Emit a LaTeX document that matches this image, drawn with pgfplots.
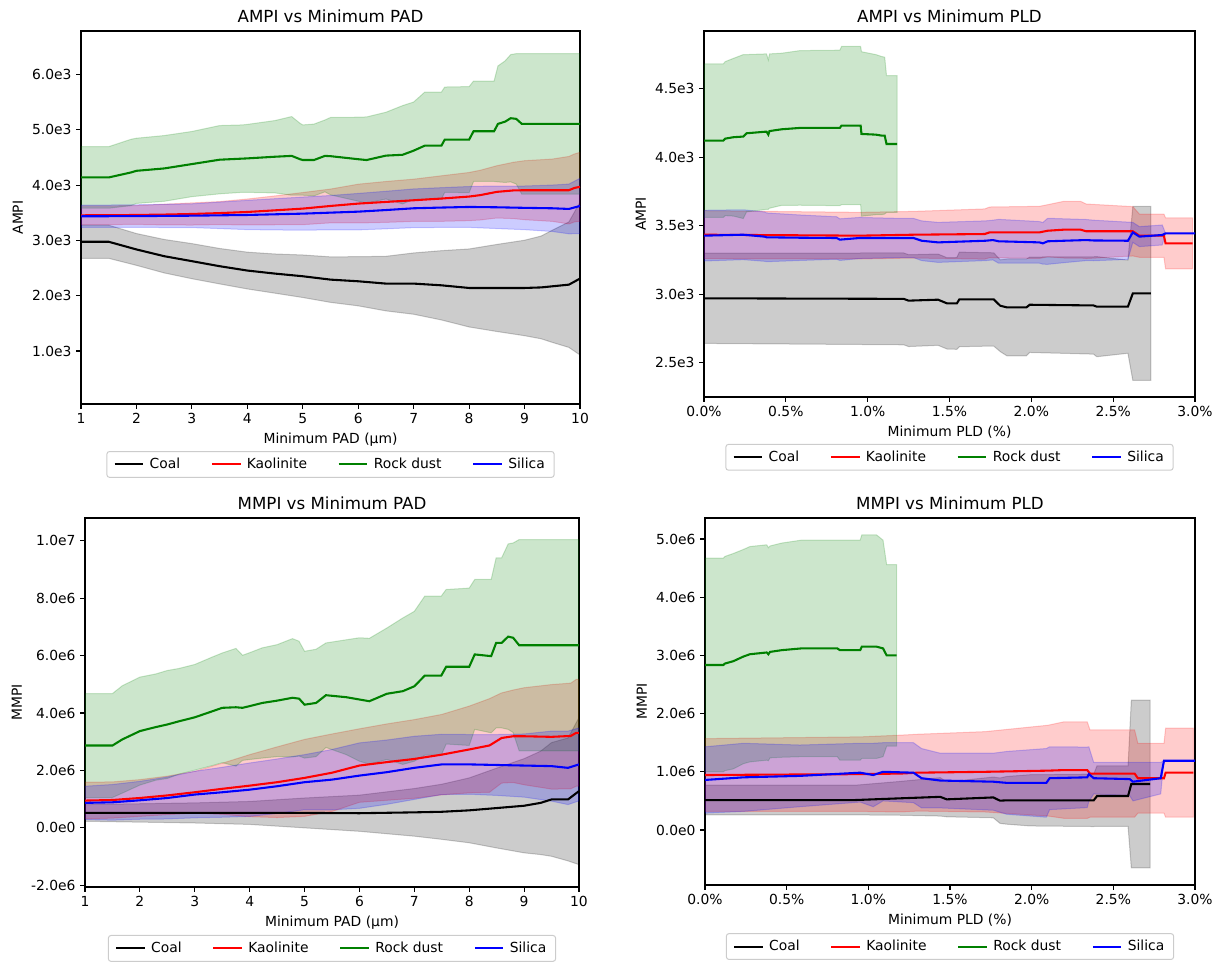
\documentclass[border=0pt]{standalone}
\usepackage{fontspec}
\setmainfont{DejaVu Sans}
\usepackage{pgfplots}
\pgfplotsset{compat=1.18}
\usepackage{pgfplotstable}
\usepgfplotslibrary{fillbetween}
\definecolor{mgreen}{HTML}{008000}

% ---------- AMPI vs PAD ----------
\pgfplotstableread{
x m s
1 2976 300
1.5 2976 300
2 2837 288
2.5 2715 303
3 2625 318
3.5 2534 321
4 2455 333
4.5 2400 355
5 2352 385
5.5 2291 412
6 2261 445
6.5 2219 494
7 2219 555
7.5 2188 627
8 2140 706
8.5 2140 788
9 2140 864
9.3 2150 930
9.5 2170 1015
9.8 2200 1136
10 2310 1383
}\cA
\pgfplotstableread{
x m s
1 3455 170
1.5 3456 170
2 3461 170
2.5 3468 187
3 3479 200
3.5 3495 208
4 3515 235
4.5 3545 261
5 3576 291
5.5 3624 306
6 3667 351
6.5 3697 370
7 3727 382
7.5 3758 412
8 3794 436
8.2 3820 450
8.5 3879 473
8.8 3905 510
9 3909 534
9.5 3909 564
9.8 3909 611
9.9 3950 615
10 3970 624
}\kA
\pgfplotstableread{
x m s
1 4140 557
1.5 4140 557
1.9 4230 600
2 4260 590
2.5 4303 595
3 4382 590
3.5 4461 618
3.9 4480 610
4 4485 615
4.5 4515 655
4.8 4530 712
4.95 4470 650
5 4455 636
5.2 4455 650
5.4 4530 650
5.5 4525 700
6 4470 760
6.15 4455 780
6.5 4535 785
6.8 4550 890
7 4625 880
7.2 4715 970
7.5 4715 970
7.56 4824 952
8 4824 960
8.08 4976 909
8.45 4976 909
8.52 5109 1049
8.65 5150 1100
8.75 5212 1152
8.85 5200 1180
8.95 5109 1273
10 5109 1273
}\rA
\pgfplotstableread{
x m s
1 3437 200
2 3440 205
3 3448 215
4 3461 265
5 3485 300
5.5 3503 310
6 3521 330
6.5 3550 340
7 3582 350
7.5 3595 360
8 3606 370
8.5 3600 385
9 3590 395
9.5 3582 420
9.8 3570 450
10 3624 500
}\sA

% ---------- AMPI vs PLD ----------
\pgfplotstableread{
x m s
0 2970 329
1.22 2966 335
1.25 2953 335
1.43 2960 333
1.485 2933 333
1.545 2933 335
1.56 2962 345
1.77 2962 340
1.81 2916 335
1.85 2904 353
1.97 2904 353
1.99 2923 348
2.38 2918 355
2.40 2909 365
2.59 2909 340
2.62 3006 635
2.73 3006 635
}\cB
\pgfplotstableread{
x m s
0 3434 175
0.95 3427 170
1.28 3434 170
1.715 3439 183
1.745 3451 185
2.05 3451 190
2.1 3463 190
2.2 3471 207
2.3 3471 207
2.335 3459 199
2.62 3459 180
2.66 3427 158
2.81 3427 158
2.82 3371 186
2.985 3371 186
}\kB
\pgfplotstableread{
x m s
0 4120 560
0.118 4120 560
0.13 4135 562
0.179 4145 575
0.24 4150 598
0.26 4174 574
0.382 4186 567
0.393 4164 545
0.40 4190 563
0.474 4203 555
0.586 4213 564
0.83 4213 567
0.84 4230 577
0.957 4230 577
0.962 4169 600
1.05 4164 584
1.085 4157 577
1.104 4157 572
1.115 4096 499
1.18 4096 499
}\rB
\pgfplotstableread{
x m s
0 3427 185
0.24 3434 182
0.37 3420 180
0.382 3415 178
0.586 3412 166
0.81 3410 155
0.83 3398 152
0.95 3410 150
1.196 3410 143
1.28 3410 143
1.33 3390 145
1.43 3378 146
1.72 3390 145
1.765 3395 145
1.8 3386 160
2.05 3378 152
2.07 3371 152
2.1 3386 168
2.2 3390 160
2.335 3395 150
2.38 3392 148
2.59 3390 136
2.62 3451 73
2.66 3420 73
2.8 3432 73
2.82 3444 0
3.0 3444 0
}\sB

% ---------- MMPI vs PAD (values in 1e6) ----------
\pgfplotstableread{
x m s
1 0.52 0.29
2 0.52 0.32
3 0.52 0.35
4 0.52 0.40
5 0.52 0.52
6 0.51 0.63
7 0.54 0.83
7.5 0.56 0.96
8 0.61 1.13
8.5 0.69 1.39
9 0.77 1.64
9.3 0.87 1.80
9.5 0.99 1.98
9.8 0.99 2.14
10 1.28 2.56
}\cC
\pgfplotstableread{
x m s
1 0.95 0.64
1.5 0.97 0.63
2 1.04 0.64
2.5 1.13 0.67
3 1.24 0.73
3.5 1.36 0.89
4 1.47 1.08
4.5 1.59 1.23
5 1.74 1.34
5.5 1.92 1.35
6 2.17 1.28
6.5 2.29 1.33
7 2.40 1.37
7.5 2.55 1.40
8 2.73 1.51
8.37 2.87 1.63
8.59 3.13 1.57
8.8 3.19 1.61
9 3.19 1.69
9.5 3.17 1.82
9.85 3.20 1.84
9.95 3.31 1.86
10 3.31 1.86
}\kC
\pgfplotstableread{
x m s
1 2.867 1.81
1.5 2.867 1.81
1.68 3.08 1.87
2 3.37 1.88
2.29 3.51 1.85
2.5 3.60 1.88
2.71 3.71 1.84
3 3.85 1.84
3.32 4.06 1.89
3.5 4.18 1.91
3.75 4.20 2.05
3.87 4.18 1.83
4 4.24 1.86
4.23 4.35 1.92
4.5 4.43 1.95
4.78 4.53 2.06
4.9 4.50 2.0
5 4.29 1.86
5.21 4.35 1.87
5.39 4.62 1.82
5.76 4.55 2.0
6 4.47 2.15
6.18 4.41 2.19
6.5 4.67 2.29
6.79 4.76 2.55
7 4.93 2.61
7.19 5.30 2.77
7.49 5.30 2.77
7.58 5.61 2.69
8 5.61 2.74
8.1 6.04 2.61
8.4 5.98 2.67
8.49 6.44 2.96
8.59 6.44 2.96
8.71 6.66 3.23
8.8 6.62 3.30
8.91 6.36 3.68
10 6.36 3.68
}\rC
\pgfplotstableread{
x m s
1 0.87 0.58
1.5 0.89 0.62
2 0.96 0.66
2.5 1.04 0.73
3 1.16 0.81
3.5 1.24 0.87
4 1.33 0.93
4.5 1.45 0.95
5 1.59 0.96
5.5 1.68 1.05
6 1.82 1.14
6.5 1.94 1.12
7 2.09 1.10
7.5 2.21 1.05
8 2.21 1.04
8.5 2.19 1.06
9 2.17 1.10
9.5 2.15 1.22
9.8 2.09 1.28
10 2.21 1.27
}\sC

% ---------- MMPI vs PLD (values in 1e6) ----------
\pgfplotstableread{
x m s
0 0.515 0.255
0.92 0.515 0.255
1.19 0.544 0.29
1.44 0.57 0.33
1.48 0.527 0.30
1.765 0.56 0.35
1.806 0.504 0.39
1.847 0.51 0.41
1.99 0.51 0.44
2.38 0.51 0.45
2.40 0.584 0.52
2.59 0.584 0.52
2.61 0.79 1.44
2.725 0.79 1.44
}\cD
\pgfplotstableread{
x m s
0 0.945 0.625
0.95 0.96 0.64
1.2 0.97 0.66
1.3 0.985 0.66
1.715 1.0 0.69
2.1 1.02 0.78
2.2 1.03 0.83
2.34 1.03 0.83
2.357 0.97 0.75
2.63 0.97 0.75
2.65 0.89 0.60
2.81 0.89 0.60
2.82 0.985 0.765
2.99 0.985 0.765
}\kD
\pgfplotstableread{
x m s
0 2.835 1.835
0.112 2.835 1.835
0.122 2.86 1.84
0.173 2.90 1.85
0.235 2.98 1.84
0.275 3.02 1.85
0.378 3.05 1.85
0.388 3.02 1.83
0.398 3.06 1.82
0.47 3.09 1.84
0.59 3.12 1.86
0.81 3.12 1.86
0.826 3.09 1.89
0.95 3.09 1.89
0.96 3.15 1.92
1.05 3.15 1.92
1.09 3.12 1.86
1.112 3.0 1.56
1.173 3.0 1.56
}\rD
\pgfplotstableread{
x m s
0 0.86 0.57
0.235 0.905 0.585
0.58 0.93 0.53
0.95 0.985 0.505
1.03 0.945 0.545
1.09 1.0 0.50
1.276 0.985 0.515
1.326 0.89 0.51
1.44 0.85 0.47
1.765 0.83 0.49
1.847 0.81 0.54
2.09 0.81 0.59
2.11 0.89 0.54
2.34 0.905 0.52
2.35 0.96 0.47
2.38 0.89 0.27
2.6 0.875 0.285
2.62 0.83 0.33
2.79 0.89 0.27
2.81 1.19 0
3.0 1.19 0
}\sD

\newcommand\band[3]{%
  \addplot[draw=none, forget plot, name path=#3l] table[x=x, y expr=\thisrow{m}-\thisrow{s}]{#1};
  \addplot[draw=none, forget plot, name path=#3u] table[x=x, y expr=\thisrow{m}+\thisrow{s}]{#1};
  \addplot[fill=#2, fill opacity=0.2, draw=#2, draw opacity=0.2, line width=0.75pt, forget plot] fill between[of=#3l and #3u];
  \addplot[#2, line width=1.56pt] table[x=x, y=m]{#1};
}

\pgfplotsset{
  myax/.style={
    scale only axis,
    anchor=north west,
    axis line style={line width=0.83pt},
    tick pos=left, tick align=outside, major tick length=3.6pt,
    every tick/.style={line width=0.83pt, black},
    scaled ticks=false,
    tick label style={font=\fontsize{10.4}{12}\selectfont},
    label style={font=\fontsize{10.4}{12}\selectfont},
    every axis title/.style={font=\fontsize{12.5}{15}\selectfont, anchor=base, at={(0.5,1)}, yshift=6.5pt, inner sep=0pt},
    legend columns=4,
    legend cell align=left,
    legend style={anchor=north, draw=black!20, rounded corners=2pt, line width=0.75pt,
      font=\fontsize{10.4}{12}\selectfont, inner xsep=5pt, inner ysep=3pt,
      /tikz/every even column/.append style={column sep=21pt},
      /tikz/every odd column/.append style={column sep=2pt}},
    legend image code/.code={\draw[##1] (0pt,0pt) -- (21.5pt,0pt);},
  },
}

\begin{document}
\begin{tikzpicture}
\path (0,0) rectangle (914.25pt,-719.25pt);

% AMPI vs PAD
\begin{axis}[myax, at={(60.75pt,-23.25pt)}, width=374.25pt, height=279.75pt,
  xmin=1, xmax=10, ymin=40, ymax=6790,
  xtick={1,2,3,4,5,6,7,8,9,10}, xticklabels={1,2,3,4,5,6,7,8,9,10},
  ytick={1000,2000,3000,4000,5000,6000}, yticklabels={1.0e3,2.0e3,3.0e3,4.0e3,5.0e3,6.0e3},
  title={AMPI vs Minimum PAD}, xlabel={Minimum PAD (µm)}, ylabel={AMPI},
  legend style={at={(0.5,-0.126)}}]
\band{\cA}{black}{aa}
\band{\kA}{red}{ab}
\band{\rA}{mgreen}{ac}
\band{\sA}{blue}{ad}
\legend{Coal,Kaolinite,Rock dust,Silica}
\end{axis}

% AMPI vs PLD
\begin{axis}[myax, at={(528pt,-23.25pt)}, width=368.25pt, height=274.5pt,
  xmin=0, xmax=3, ymin=2250, ymax=4920,
  xtick={0,0.5,1,1.5,2,2.5,3}, xticklabels={0.0\%,0.5\%,1.0\%,1.5\%,2.0\%,2.5\%,3.0\%},
  ytick={2500,3000,3500,4000,4500}, yticklabels={2.5e3,3.0e3,3.5e3,4.0e3,4.5e3},
  title={AMPI vs Minimum PLD}, xlabel={Minimum PLD (\%)}, ylabel={AMPI},
  legend style={at={(0.5,-0.128)}}]
\band{\cB}{black}{ba}
\band{\kB}{red}{bb}
\band{\rB}{mgreen}{bc}
\band{\sB}{blue}{bd}
\legend{Coal,Kaolinite,Rock dust,Silica}
\end{axis}

% MMPI vs PAD
\begin{axis}[myax, at={(63.75pt,-388.5pt)}, width=370.5pt, height=276.75pt,
  xmin=1, xmax=10, ymin=-2.06, ymax=10.79,
  xtick={1,2,3,4,5,6,7,8,9,10}, xticklabels={1,2,3,4,5,6,7,8,9,10},
  ytick={-2,0,2,4,6,8,10}, yticklabels={-2.0e6,0.0e0,2.0e6,4.0e6,6.0e6,8.0e6,1.0e7},
  title={MMPI vs Minimum PAD}, xlabel={Minimum PAD (µm)}, ylabel={MMPI},
  legend style={at={(0.5,-0.130)}}]
\band{\cC}{black}{ca}
\band{\kC}{red}{cb}
\band{\rC}{mgreen}{cc}
\band{\sC}{blue}{cd}
\legend{Coal,Kaolinite,Rock dust,Silica}
\end{axis}

% MMPI vs PLD
\begin{axis}[myax, at={(528.75pt,-388.5pt)}, width=367.5pt, height=275.25pt,
  xmin=0, xmax=3, ymin=-0.945, ymax=5.36,
  xtick={0,0.5,1,1.5,2,2.5,3}, xticklabels={0.0\%,0.5\%,1.0\%,1.5\%,2.0\%,2.5\%,3.0\%},
  ytick={0,1,2,3,4,5}, yticklabels={0.0e0,1.0e6,2.0e6,3.0e6,4.0e6,5.0e6},
  title={MMPI vs Minimum PLD}, xlabel={Minimum PLD (\%)}, ylabel={MMPI},
  legend style={at={(0.5,-0.131)}}]
\band{\cD}{black}{da}
\band{\kD}{red}{db}
\band{\rD}{mgreen}{dc}
\band{\sD}{blue}{dd}
\legend{Coal,Kaolinite,Rock dust,Silica}
\end{axis}
\end{tikzpicture}
\end{document}
